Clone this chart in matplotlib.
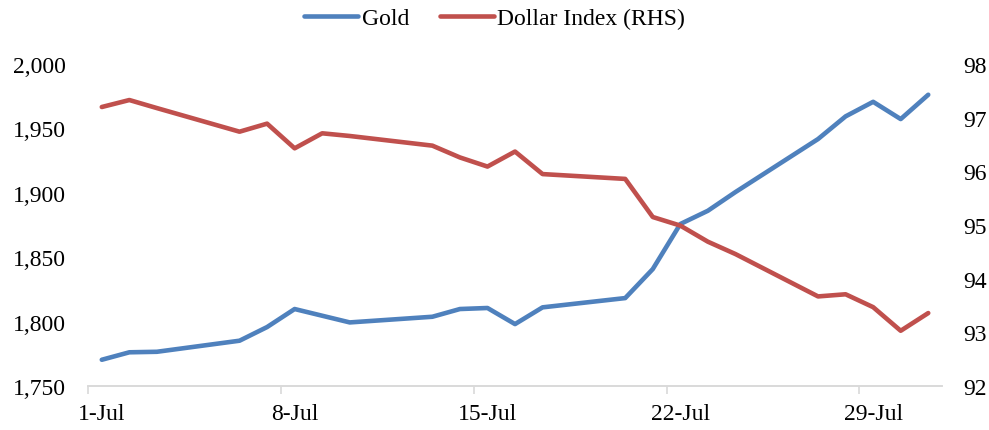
#!/usr/bin/env python3

# Gold vs Dollar Index, July: gold on the left axis, DXY on the right.
import matplotlib
matplotlib.use('Agg')
import matplotlib.pyplot as plt

# Trading days (day of July) and closing values
days = [1, 2, 3, 6, 7, 8, 9, 10, 13, 14, 15, 16, 17, 20, 21, 22, 23, 24, 27, 28, 29, 30, 31]
gold = [1770.4, 1776.2, 1776.6, 1785.2, 1795.8, 1809.8, 1804.6, 1799.4, 1803.8, 1809.8,
        1810.6, 1798.1, 1811.1, 1818.3, 1840.8, 1875.8, 1886.1, 1900.6, 1941.8, 1959.4,
        1970.7, 1957.3, 1976.2]
dxy = [97.20, 97.33, 97.18, 96.74, 96.89, 96.43, 96.71, 96.66, 96.48, 96.26,
       96.09, 96.37, 95.95, 95.86, 95.15, 94.99, 94.69, 94.46, 93.67, 93.71,
       93.47, 93.03, 93.36]
tick_days = [1, 8, 15, 22, 29]
tick_labels = ['1-Jul', '8-Jul', '15-Jul', '22-Jul', '29-Jul']

plt.rcParams['font.family'] = ['Liberation Serif', 'DejaVu Serif']
plt.rcParams['font.size'] = 17

fig = plt.figure(figsize=(9.89, 4.31), dpi=100)
ax = fig.add_axes([0.089, 0.102, 0.8635, 0.747])
ax2 = ax.twinx()

x = [d - 1 for d in days]
l1, = ax.plot(x, gold, color='#4F81BD', lw=3.3, solid_capstyle='round', label='Gold')
l2, = ax2.plot(x, dxy, color='#C0504D', lw=3.3, solid_capstyle='round', label='Dollar Index (RHS)')

ax.set_xlim(-0.5, 30.5)
ax.set_ylim(1750, 2000)
ax.set_yticks(range(1750, 2001, 50))
ax.set_yticklabels([f'{v:,}' for v in range(1750, 2001, 50)])
ax2.set_ylim(92, 98)
ax2.set_yticks(range(92, 99))

# labels centred on the day, tick marks on day boundaries
ax.set_xticks([d - 1 for d in tick_days])
ax.set_xticklabels(tick_labels)
ax.set_xticks([d - 1.5 for d in tick_days], minor=True)
ax.tick_params(axis='x', which='major', length=0, pad=12)
ax.tick_params(axis='x', which='minor', length=6, color='#D9D9D9', width=1.2)
ax.tick_params(axis='y', length=0, pad=16)
ax2.tick_params(axis='y', length=0, pad=15)

for a in (ax, ax2):
    for side in ('top', 'left', 'right'):
        a.spines[side].set_visible(False)
    a.spines['bottom'].set_color('#D9D9D9')
    a.spines['bottom'].set_linewidth(1.2)

fig.legend(handles=[l1, l2], loc='upper center', bbox_to_anchor=(0.5, 1.03), ncol=2,
           frameon=False, handlelength=2.3, handletextpad=0.15, columnspacing=1.3)

fig.savefig('out.png', dpi=100)
